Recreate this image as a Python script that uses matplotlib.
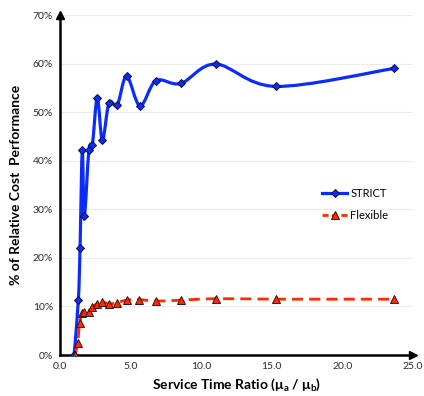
import matplotlib.pyplot as plt
import numpy as np
from matplotlib.path import Path
from matplotlib.patches import PathPatch
from matplotlib.lines import Line2D

# ---------------------------------- data ---------------------------------- #

strict_x = [1.0, 1.30, 1.42, 1.58, 1.72, 2.05, 2.29, 2.64, 3.0, 3.47, 4.06,
            4.72, 5.67, 6.8, 8.55, 11.03, 15.28, 23.65]
strict_y = [0.0, 11.3, 22.1, 42.3, 28.6, 42.3, 43.2, 52.9, 44.2, 51.9, 51.5,
            57.4, 51.3, 56.5, 55.9, 59.9, 55.3, 59.0]

flex_x = [1.06, 1.25, 1.39, 1.58, 1.72, 2.05, 2.29, 2.64, 3.0, 3.47, 4.06,
          4.72, 5.62, 6.8, 8.55, 11.03, 15.28, 23.65]
flex_y = [0.0, 2.4, 6.5, 8.6, 8.9, 8.9, 9.9, 10.6, 11.0, 10.5, 10.8,
          11.3, 11.4, 11.1, 11.3, 11.6, 11.5, 11.5]

x_ticks = [0, 5, 10, 15, 20, 25]
y_ticks = [0, 10, 20, 30, 40, 50, 60, 70]

blue = '#0a2cff'
red = '#ff2a00'

plt.rcParams['font.family'] = ['Lato', 'DejaVu Sans']
plt.rcParams['mathtext.fontset'] = 'custom'
plt.rcParams['mathtext.bf'] = 'Lato:bold'


# smooth curve like a spreadsheet "smoothed line": bezier through the points
def smooth_path(xs, ys):
    p = np.column_stack([xs, ys]).astype(float)
    verts = [p[0]]
    codes = [Path.MOVETO]
    n = len(p)
    for i in range(n - 1):
        p0 = p[i - 1] if i > 0 else p[i]
        p3 = p[i + 2] if i + 2 < n else p[i + 1]
        c1 = p[i] + (p[i + 1] - p0) / 6
        c2 = p[i + 1] - (p3 - p[i]) / 6
        verts += [c1, c2, p[i + 1]]
        codes += [Path.CURVE4] * 3
    return Path(verts, codes)


fig = plt.figure(figsize=(4.24, 3.96), dpi=100)
ax = fig.add_axes([0.1415, 0.1035, 0.8325, 0.8586])

# grid
for v in y_ticks[1:]:
    ax.axhline(v, color='#ececec', lw=0.8, zorder=0)

# STRICT
ax.add_patch(PathPatch(smooth_path(strict_x, strict_y), fill=False,
                       edgecolor=blue, lw=2.3, zorder=3))
ax.plot(strict_x, strict_y, ls='none', marker='D', ms=4.3, mfc=blue,
        mec='#10103a', mew=0.7, zorder=4)

# Flexible
ax.add_patch(PathPatch(smooth_path(flex_x, flex_y), fill=False,
                       edgecolor=red, lw=2.0, ls=(0, (4.0, 2.2)), zorder=3))
ax.plot(flex_x, flex_y, ls='none', marker='^', ms=5.5, mfc=red,
        mec='#3a1010', mew=0.7, zorder=4)

ax.set_xlim(0, 25)
ax.set_ylim(0, 70)
ax.set_xticks(x_ticks)
ax.set_xticklabels([f'{v:.1f}' for v in x_ticks])
ax.set_yticks(y_ticks)
ax.set_yticklabels([f'{v}%' for v in y_ticks])
ax.tick_params(length=0, labelsize=7.5, colors='#2a2a2a', pad=5)

for s in ['top', 'right']:
    ax.spines[s].set_visible(False)
for s in ['left', 'bottom']:
    ax.spines[s].set_linewidth(1.8)
    ax.spines[s].set_color('black')

# arrow heads
ax.plot(1, 0, '>', color='black', ms=6, transform=ax.transAxes, clip_on=False)
ax.plot(0, 1, '^', color='black', ms=6, transform=ax.transAxes, clip_on=False)

ax.set_xlabel(r'Service Time Ratio ($\mathbf{\mu_a}$ / $\mathbf{\mu_b}$)',
              fontsize=10, fontweight='bold', labelpad=4)
ax.set_ylabel('% of Relative Cost  Performance', fontsize=10,
              fontweight='bold', labelpad=8)

handles = [
    Line2D([], [], color=blue, lw=2.3, marker='D', ms=4.3, mfc=blue,
           mec='#10103a', mew=0.7),
    Line2D([], [], color=red, lw=2.0, ls=(0, (2.2, 1.2)), marker='^', ms=5.5,
           mfc=red, mec='#3a1010', mew=0.7),
]
ax.legend(handles, ['STRICT', 'Flexible'], loc='upper left',
          bbox_to_anchor=(0.715, 0.52), frameon=False, fontsize=8,
          handlelength=2.2, handletextpad=0.3, labelspacing=1.0)

fig.savefig('out.png', dpi=100)
